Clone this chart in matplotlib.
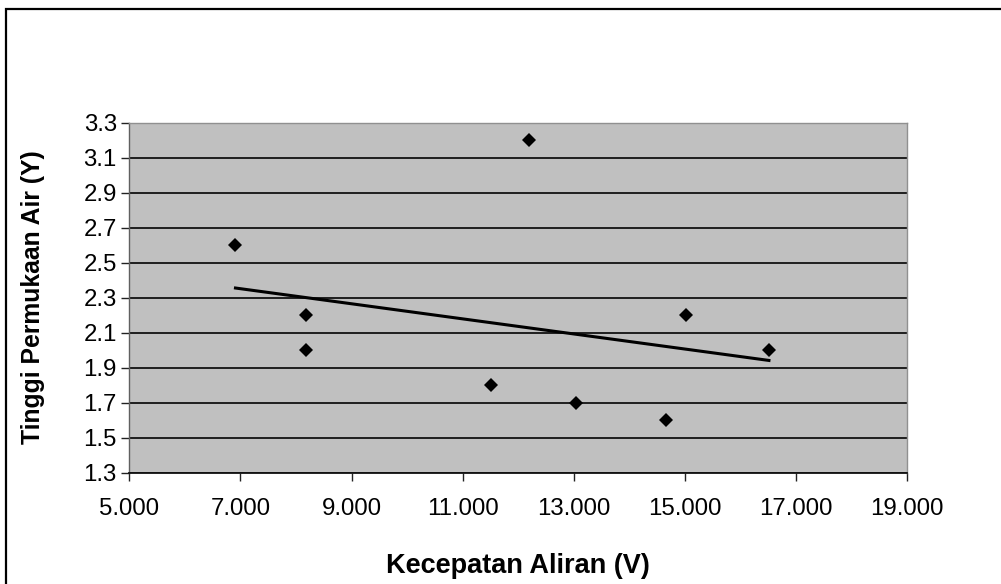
import matplotlib.pyplot as plt
import numpy as np
from matplotlib.patches import Rectangle

# data
kecepatan = [6.91, 8.18, 8.18, 11.51, 12.2, 13.04, 14.66, 15.02, 16.51]
tinggi = [2.6, 2.2, 2.0, 1.8, 3.2, 1.7, 1.6, 2.2, 2.0]
xticks = [5, 7, 9, 11, 13, 15, 17, 19]
yticks = [1.3, 1.5, 1.7, 1.9, 2.1, 2.3, 2.5, 2.7, 2.9, 3.1, 3.3]

plt.rcParams['font.family'] = ['Liberation Sans', 'DejaVu Sans']

fig = plt.figure(figsize=(10.01, 5.84), dpi=100)
ax = fig.add_axes([0.1292, 0.1906, 0.7772, 0.5993])
ax.set_facecolor('#C0C0C0')

# horizontal gridlines
for yv in yticks:
    ax.axhline(yv, color='#111111', lw=1.3, zorder=1)

ax.plot(kecepatan, tinggi, 'D', color='black', ms=7, mew=0, zorder=3)

# linear trendline
a, b = np.polyfit(kecepatan, tinggi, 1)
xt = np.array([min(kecepatan), max(kecepatan)])
ax.plot(xt, a * xt + b, color='black', lw=2.2, zorder=2)

ax.set_xlim(5, 19)
ax.set_ylim(1.3, 3.3)
ax.set_xticks(xticks)
ax.set_xticklabels(['%d.000' % v for v in xticks])
ax.set_yticks(yticks)
ax.set_yticklabels(['%.1f' % v for v in yticks])
ax.tick_params(direction='out', length=6, width=1, color='#222222',
               labelsize=17.3)
ax.tick_params(axis='y', pad=3)
ax.tick_params(axis='x', pad=12)

for s in ['top', 'right']:
    ax.spines[s].set_color('#909090')
    ax.spines[s].set_linewidth(1)
ax.spines['left'].set_color('#606060')
ax.spines['bottom'].set_color('#111111')
ax.spines['left'].set_linewidth(1)
ax.spines['bottom'].set_linewidth(1.3)

fig.text(0.0325, 0.4906, 'Tinggi Permukaan Air (Y)', rotation=90,
         ha='center', va='center', fontsize=17.8, fontweight='bold')
fig.text(0.5175, 0.031, 'Kecepatan Aliran (V)', ha='center', va='center',
         fontsize=19.5, fontweight='bold')

# chart frame
fig.patches.append(Rectangle((6 / 1001, -0.1), 1.2, 1 - 9 / 584 + 0.1,
                             transform=fig.transFigure, fill=False,
                             edgecolor='black', lw=1.6))

fig.savefig('out.png', dpi=100)
